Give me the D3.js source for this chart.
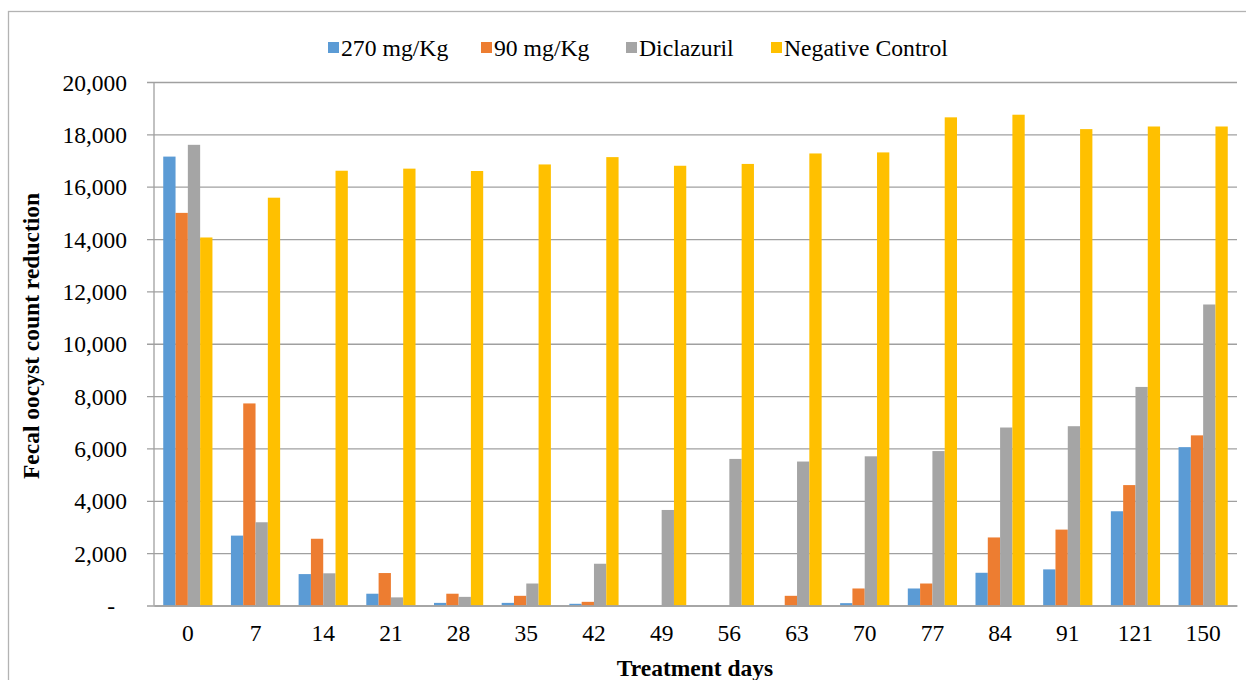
<!DOCTYPE html>
<html>
<head>
<meta charset="utf-8">
<script src="https://cdn.jsdelivr.net/npm/d3@7"></script>
<style>
  html, body { margin: 0; padding: 0; background: #fff; }
  svg { display: block; font-family: "Liberation Serif", "Times New Roman", serif; }
</style>
</head>
<body>
<svg id="chart" width="1246" height="680"></svg>
<script>
const categories = ["0","7","14","21","28","35","42","49","56","63","70","77","84","91","121","150"];
const seriesNames = ["270 mg/Kg","90 mg/Kg","Diclazuril","Negative Control"];
const dose270 = [17150, 2670, 1200, 450, 100, 100, 65, 0, 0, 0, 90, 650, 1250, 1380, 3600, 6050];
const dose90 = [15000, 7720, 2550, 1240, 450, 370, 140, 0, 0, 370, 650, 840, 2600, 2900, 4600, 6500];
const diclazuril = [17600, 3180, 1230, 310, 330, 840, 1595, 3650, 5600, 5500, 5700, 5900, 6800, 6850, 8350, 11500];
const negativeControl = [14060, 15580, 16610, 16690, 16600, 16850, 17130, 16800, 16870, 17270, 17310, 18650, 18750, 18200, 18300, 18300];
const yTickValues = [0, 2000, 4000, 6000, 8000, 10000, 12000, 14000, 16000, 18000, 20000];
const yTickLabels = ["-", "2,000", "4,000", "6,000", "8,000", "10,000", "12,000", "14,000", "16,000", "18,000", "20,000"];
const colors = ["#5B9BD5", "#ED7D31", "#A5A5A5", "#FFC000"];
const yTitle = "Fecal oocyst count reduction";
const xTitle = "Treatment days";

const seriesValues = [dose270, dose90, diclazuril, negativeControl];
const FONT = '"Liberation Serif", "Times New Roman", serif';

const svg = d3.select("#chart");
const plot = { left: 154, right: 1237, top: 82, bottom: 605.5 };

// outer chart border (partially visible)
svg.append("rect")
  .attr("x", 8.5).attr("y", 11.5)
  .attr("width", 1260).attr("height", 700)
  .attr("fill", "none").attr("stroke", "#b3b3b3").attr("stroke-width", 1.3);

const y = d3.scaleLinear().domain([0, 20000]).range([plot.bottom, plot.top]);
const x0 = d3.scaleBand().domain(categories).range([plot.left, plot.right])
  .paddingInner(0.273).paddingOuter(0.1365);
const x1 = d3.scaleBand().domain(seriesNames).range([0, x0.bandwidth()]).padding(0);

// gridlines + y axis
const yAxis = d3.axisLeft(y).tickValues(yTickValues)
  .tickSize(plot.right - plot.left + 7)
  .tickFormat((d, i) => yTickLabels[i]);
const gy = svg.append("g").attr("transform", `translate(${plot.right},0)`).call(yAxis)
  .attr("font-family", FONT);
gy.select(".domain").remove();
gy.selectAll(".tick line").attr("stroke", "#a0a0a0").attr("stroke-width", 1.3);
gy.selectAll(".tick text")
  .attr("x", -(plot.right - plot.left) - 27)
  .attr("font-size", 23.5).attr("fill", "#000")
  .attr("dy", "0.34em")
  .filter((d) => d === 0).attr("dx", -12);

// y axis line
svg.append("line")
  .attr("x1", plot.left).attr("x2", plot.left)
  .attr("y1", plot.top).attr("y2", plot.bottom)
  .attr("stroke", "#a0a0a0").attr("stroke-width", 1.3);

// bars
const groups = svg.append("g").selectAll("g")
  .data(categories)
  .join("g")
  .attr("transform", d => `translate(${x0(d)},0)`);

groups.selectAll("rect")
  .data((c, ci) => seriesNames.map((s, si) => ({ s, si, v: seriesValues[si][ci] })))
  .join("rect")
  .attr("x", d => x1(d.s))
  .attr("width", x1.bandwidth())
  .attr("y", d => y(d.v))
  .attr("height", d => y(0) - y(d.v))
  .attr("fill", d => colors[d.si]);

// x axis
const xAxis = d3.axisBottom(x0).tickSize(0).tickPadding(0);
const gx = svg.append("g").attr("transform", `translate(0,${plot.bottom})`).call(xAxis)
  .attr("font-family", FONT);
gx.select(".domain").attr("stroke", "#a0a0a0").attr("stroke-width", 1.3);
gx.selectAll(".tick text").attr("font-size", 23.5).attr("fill", "#000").attr("y", 19).attr("dy", "0.71em");

// axis titles
svg.append("text")
  .attr("x", 695).attr("y", 676)
  .attr("text-anchor", "middle").attr("font-weight", "bold").attr("font-size", 23.5)
  .text(xTitle);
svg.append("text")
  .attr("transform", "translate(39,336) rotate(-90)")
  .attr("text-anchor", "middle").attr("font-weight", "bold").attr("font-size", 23.5)
  .text(yTitle);

// legend
const legendX = [328, 481, 626, 771];
const legend = svg.append("g").selectAll("g")
  .data(seriesNames)
  .join("g")
  .attr("transform", (d, i) => `translate(${legendX[i]},42)`);
legend.append("rect").attr("x", 0).attr("y", 0).attr("width", 11).attr("height", 11)
  .attr("fill", (d, i) => colors[i]);
legend.append("text").attr("x", 13).attr("y", 14).attr("font-size", 23.7).attr("fill", "#000")
  .text(d => d);
</script>
</body>
</html>
